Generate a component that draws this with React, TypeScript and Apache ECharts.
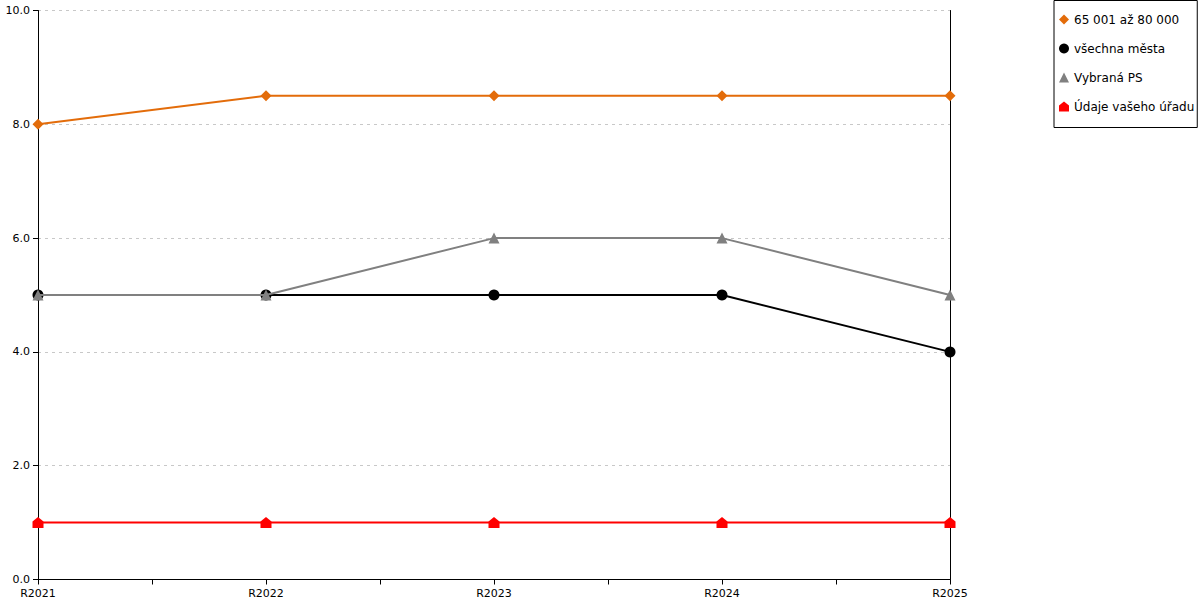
import React, { useEffect, useRef } from "react";
import * as echarts from "echarts";

const categories = ["R2021", "R2022", "R2023", "R2024", "R2025"];
const halfTicks = ["", "", "", "", "", "", "", ""];
const seriesNames = ["65 001 až 80 000", "všechna města", "Vybraná PS", "Údaje vašeho úřadu"];
const orangeValues = [8.0, 8.5, 8.5, 8.5, 8.5];
const blackValues = [5.0, 5.0, 5.0, 5.0, 4.0];
const greyValues = [5.0, 5.0, 6.0, 6.0, 5.0];
const redValues = [1.0, 1.0, 1.0, 1.0, 1.0];

const HOUSE = "path://M0,10 L0,4 L5,0 L10,4 L10,10 Z";
const FONT = "DejaVu Sans";

export default function App() {
  const ref = useRef<HTMLDivElement>(null);
  useEffect(() => {
    if (!ref.current) return;
    const chart = echarts.init(ref.current, null, { renderer: "svg" });
    const colors = ["#E36C0A", "#000000", "#808080", "#FF0000"];
    const symbols = ["diamond", "circle", "triangle", HOUSE];
    const sizes = [11, 11, 11, 11];
    const values = [orangeValues, blackValues, greyValues, redValues];
    const order = [3, 1, 2, 0];
    chart.setOption({
      animation: false,
      textStyle: { fontFamily: FONT },
      grid: { left: 38, right: 250, top: 10.5, bottom: 20.5, containLabel: false },
      legend: {
        orient: "vertical",
        left: 1054,
        top: 0.5,
        padding: [13, 3, 15, 5],
        itemGap: 17,
        itemWidth: 10,
        itemHeight: 10,
        borderColor: "#000",
        borderWidth: 1,
        textStyle: { fontFamily: FONT, fontSize: 12, color: "#000" },
        data: seriesNames.map((n, i) => ({ name: n, icon: symbols[i], itemStyle: { color: colors[i] } })),
      },
      xAxis: [
        {
          type: "category",
          data: categories,
          boundaryGap: false,
          axisLine: { lineStyle: { color: "#000", width: 1 } },
          axisTick: { show: false },
          axisLabel: { color: "#000", fontSize: 11, fontFamily: FONT, margin: 8 },
          splitLine: { show: false },
        },
        {
          type: "category",
          data: halfTicks,
          boundaryGap: true,
          position: "bottom",
          axisLine: { show: false },
          axisTick: { show: true, length: 5, lineStyle: { color: "#000" } },
          axisLabel: { show: false },
          splitLine: { show: false },
        },
      ],
      yAxis: [
        {
          type: "value",
          min: 0,
          max: 10,
          interval: 2,
          axisLine: { show: true, lineStyle: { color: "#000" } },
          axisTick: { show: true, length: 5, lineStyle: { color: "#000" } },
          axisLabel: {
            color: "#000",
            fontSize: 11,
            fontFamily: FONT,
            formatter: (v: number) => v.toFixed(1),
          },
          splitLine: { show: true, lineStyle: { color: "#c8c8c8", type: [3, 4], width: 1 } },
        },
        {
          type: "value",
          min: 0,
          max: 10,
          interval: 2,
          position: "right",
          axisLine: { show: true, lineStyle: { color: "#000" } },
          axisTick: { show: false },
          axisLabel: { show: false },
          splitLine: { show: false },
        },
      ],
      series: order.map((i) => ({
        name: seriesNames[i],
        type: "line",
        data: values[i],
        xAxisIndex: 0,
        yAxisIndex: 0,
        symbol: symbols[i],
        symbolSize: sizes[i],
        showAllSymbol: true,
        lineStyle: { color: colors[i], width: 2 },
        itemStyle: { color: colors[i] },
        z: 2 + order.indexOf(i),
      })),
    });
    return () => chart.dispose();
  }, []);
  return <div ref={ref} style={{ position: "absolute", left: 0, top: 0, width: 1200, height: 600 }} />;
}
